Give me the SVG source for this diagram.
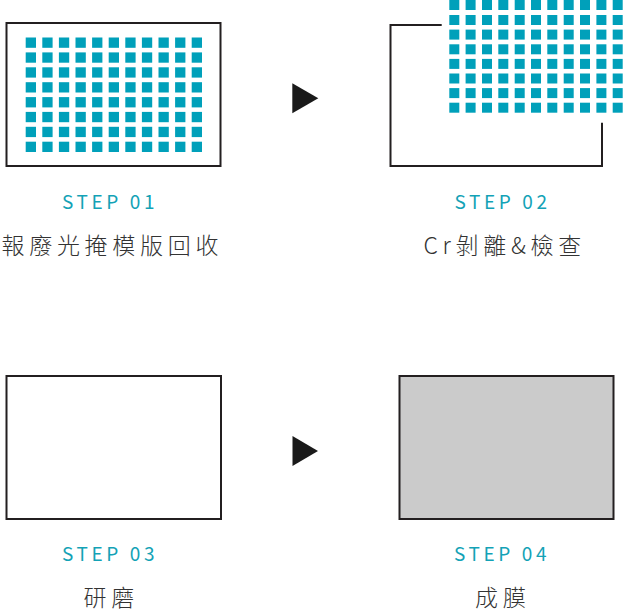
<svg xmlns="http://www.w3.org/2000/svg" xmlns:xlink="http://www.w3.org/1999/xlink" width="623" height="615" viewBox="0 0 623 615">
<style>
.frame{fill:none;stroke:#231f20;stroke-width:2}
.dot{fill:#00a0ba}
.arrow{fill:#1a1a1a}
.step{font-family:"Noto Sans CJK TC","Noto Sans",sans-serif;font-size:19px;letter-spacing:3.6px;fill:#13a2b6}
.label{font-family:"Noto Sans CJK TC","Noto Sans CJK JP",sans-serif;font-size:23px;font-weight:300;letter-spacing:4.7px;fill:#333333}
</style>
<defs>
<g id="row1">
<rect class="dot" x="25.7" y="0" width="10.3" height="10.3"/>
<rect class="dot" x="42.3" y="0" width="10.3" height="10.3"/>
<rect class="dot" x="58.9" y="0" width="10.3" height="10.3"/>
<rect class="dot" x="75.5" y="0" width="10.3" height="10.3"/>
<rect class="dot" x="92.1" y="0" width="10.3" height="10.3"/>
<rect class="dot" x="108.7" y="0" width="10.3" height="10.3"/>
<rect class="dot" x="125.3" y="0" width="10.3" height="10.3"/>
<rect class="dot" x="141.9" y="0" width="10.3" height="10.3"/>
<rect class="dot" x="158.5" y="0" width="10.3" height="10.3"/>
<rect class="dot" x="175.1" y="0" width="10.3" height="10.3"/>
<rect class="dot" x="191.7" y="0" width="10.3" height="10.3"/>
</g>
<g id="row2">
<rect class="dot" x="449.3" y="0" width="10" height="10"/>
<rect class="dot" x="465.6" y="0" width="10" height="10"/>
<rect class="dot" x="482.0" y="0" width="10" height="10"/>
<rect class="dot" x="498.3" y="0" width="10" height="10"/>
<rect class="dot" x="514.7" y="0" width="10" height="10"/>
<rect class="dot" x="531.0" y="0" width="10" height="10"/>
<rect class="dot" x="547.3" y="0" width="10" height="10"/>
<rect class="dot" x="563.7" y="0" width="10" height="10"/>
<rect class="dot" x="580.0" y="0" width="10" height="10"/>
<rect class="dot" x="596.4" y="0" width="10" height="10"/>
<rect class="dot" x="612.7" y="0" width="10" height="10"/>
</g>
</defs>
<rect width="623" height="615" fill="#ffffff"/>

<g id="step1">
<rect class="frame" x="6.5" y="23" width="214" height="143"/>
<use xlink:href="#row1" href="#row1" y="37.5"/>
<use xlink:href="#row1" href="#row1" y="52.4"/>
<use xlink:href="#row1" href="#row1" y="67.3"/>
<use xlink:href="#row1" href="#row1" y="82.2"/>
<use xlink:href="#row1" href="#row1" y="97.1"/>
<use xlink:href="#row1" href="#row1" y="111.9"/>
<use xlink:href="#row1" href="#row1" y="126.8"/>
<use xlink:href="#row1" href="#row1" y="141.7"/>
<text class="step" x="62" y="209">STEP 01</text>
<text class="label" x="1.5" y="254">報廢光掩模版回收</text>
</g>

<g id="step2">
<polyline class="frame" points="441.7,25 390.5,25 390.5,166 602,166 602,122.7"/>
<use xlink:href="#row2" href="#row2" y="0"/>
<use xlink:href="#row2" href="#row2" y="15"/>
<use xlink:href="#row2" href="#row2" y="29.6"/>
<use xlink:href="#row2" href="#row2" y="44.3"/>
<use xlink:href="#row2" href="#row2" y="58.9"/>
<use xlink:href="#row2" href="#row2" y="73.5"/>
<use xlink:href="#row2" href="#row2" y="88.1"/>
<use xlink:href="#row2" href="#row2" y="102.7"/>
<text class="step" x="454.5" y="209">STEP 02</text>
<text class="label" x="423.5" y="254">Cr剝離&amp;檢查</text>
</g>

<g id="step3">
<rect class="frame" x="6.5" y="376" width="214.5" height="143"/>
<text class="step" x="62" y="561">STEP 03</text>
<text class="label" x="83.5" y="606">研磨</text>
</g>

<g id="step4">
<rect class="frame" x="399.5" y="376" width="214" height="143" style="fill:#cbcbcb"/>
<text class="step" x="454" y="561">STEP 04</text>
<text class="label" x="475" y="606">成膜</text>
</g>

<g id="connectors">
<polygon class="arrow" points="292.3,83.3 318.3,98.3 292.3,113.3"/>
<polygon class="arrow" points="292.5,436 318,451 292.5,466"/>
</g>
</svg>
